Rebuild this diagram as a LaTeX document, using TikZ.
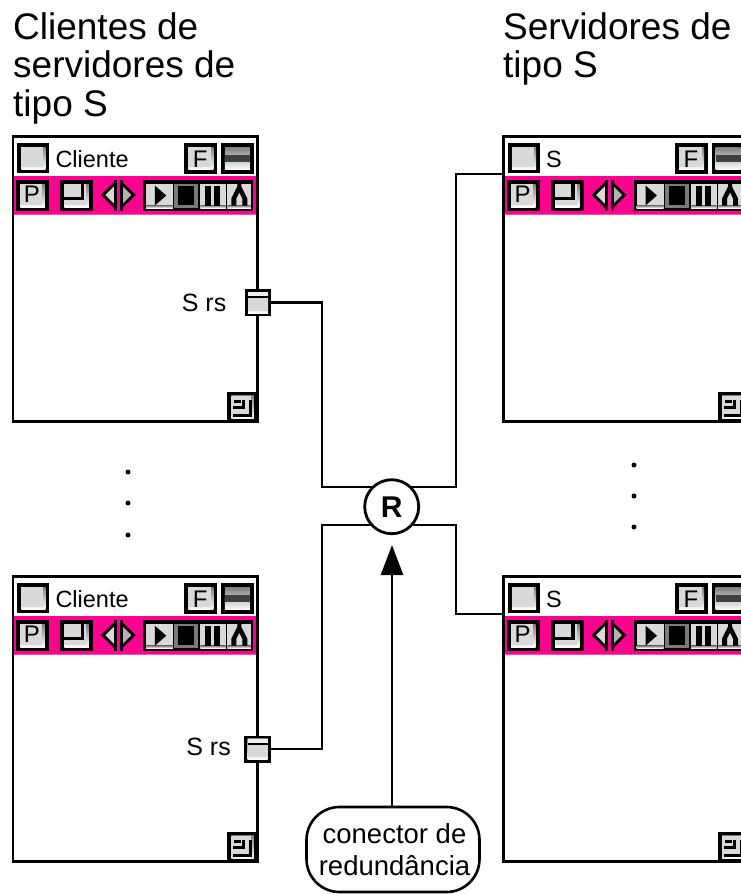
\documentclass[tikz,border=0pt]{standalone}
\usepackage{fontspec}
\setmainfont{Liberation Sans}
\usetikzlibrary{arrows.meta}
\definecolor{wpink}{HTML}{FF0090}
\definecolor{face}{HTML}{D9D9D9}
\definecolor{shade}{HTML}{999999}
\tikzset{
  x=1pt,y=-1pt,
  wire/.style={draw=black,line width=2.5pt,line join=miter},
  frame/.style={draw=black,line width=2.6pt,fill=white,rectangle,inner sep=0pt,outer sep=0pt,anchor=north west,minimum width=244.5pt,minimum height=285pt},
  title/.style={align=left,anchor=north west,inner sep=0pt,font=\fontsize{37}{38.5}\selectfont},
  wtext/.style={anchor=base west,inner sep=0pt,font=\fontsize{23.5}{24}\selectfont},
  ptext/.style={anchor=base east,inner sep=0pt,font=\fontsize{25}{25}\selectfont},
  btext/.style={anchor=center,inner sep=0pt,font=\fontsize{24}{24}\selectfont},
  dotn/.style={circle,fill=black,inner sep=0pt,minimum size=5pt},
}
% button: x1 y1 x2 y2 (black outer, 4px border)
\newcommand{\btn}[4]{%
  \fill[black] (#1,#2) rectangle (#3,#4);
  \fill[shade] (#1+4,#2+4) rectangle (#3-4,#4-4);
  \fill[face] (#1+4,#2+4) rectangle (#3-6.5,#4-6.5);
}
\newcommand{\windowbox}[2]{% name, title
  \fill[wpink] (1,39.5) rectangle (243.5,77.5);
  \node[frame] (#1) at (0,0) {};
  \fill[wpink] (1.3,39.5) rectangle (243.2,77);
  \fill[wpink!70!white] (1.3,77) rectangle (243.2,78);
  \coordinate (#1in) at (-1,37.5);
  \btn{4.5}{6.5}{36.5}{36.5}
  \node[wtext] (#1title) at (42.5,31) {#2};
  \btn{171.5}{6.5}{204.5}{37}
  \node[btext] (#1f) at (187.5,23) {F};
  % stripes button
  \fill[black] (208,6.5) rectangle (241,37);
  \fill[shade] (212,10.5) rectangle (237,33);
  \fill[black!75] (212,18.5) rectangle (237,25.5);
  % P
  \btn{3.5}{43.5}{36}{74.5}
  \node[btext] (#1p) at (19,58) {P};
  % window-shape button
  \btn{47.5}{43.5}{80}{74.5}
  \draw[black,line width=3.4pt] (51,62) -- (69.5,62) -- (69.5,46);
  % left/right arrows
  \fill[black] (88,58.5) -- (101.5,45.5) -- (101.5,71.5) -- cycle;
  \fill[face] (92.5,58.5) -- (101.5,49.5) -- (101.5,67.5) -- cycle;
  \fill[black] (101,43.5) rectangle (104.5,74);
  \fill[black] (123,58.5) -- (109.5,45.5) -- (109.5,71.5) -- cycle;
  \fill[shade!60!face] (118.5,58.5) -- (109.5,49.5) -- (109.5,67.5) -- cycle;
  \fill[black] (107,43.5) rectangle (110.5,74);
  % play group
  \fill[black] (130.5,43.5) rectangle (240,74.5);
  \fill[face] (133,47) rectangle (160,71.5);
  \fill[shade] (133,69) rectangle (160,71.5);
  \fill[black] (142,49) -- (153.5,59) -- (142,69) -- cycle;
  \fill[shade!80!black] (161.5,47) rectangle (185,71.5);
  \fill[black] (165.5,49.5) rectangle (181.5,68.5);
  \fill[face] (187.5,47) rectangle (213,71.5);
  \fill[shade] (187.5,69) rectangle (213,71.5);
  \fill[black] (192.5,49.5) rectangle (198.5,69);
  \fill[black] (201.5,49.5) rectangle (207,69);
  \fill[face] (214.5,47) rectangle (238,71.5);
  \fill[shade] (214.5,69) rectangle (238,71.5);
  \fill[black] (218.5,69) -- (218.5,62) -- (224.5,50) -- (224.5,47.5) -- (228.5,47.5) -- (228.5,50) -- (234.5,62) -- (234.5,69) -- (229.5,69) -- (229.5,62) -- (226.5,56) -- (223.5,62) -- (223.5,69) -- cycle;
  % resize handle
  \btn{214.5}{255}{245}{286}
  \draw[black,line width=3pt] (220,279) -- (237.5,279) -- (237.5,263);
  \draw[black,line width=3pt] (220,271) -- (231,271) -- (231,263);
  \fill[black] (221,263) rectangle (228,266);
}
\newcommand{\portbox}[3]{% name, cx, cy
  \fill[black] (#2-13.2,#3-13.5) rectangle (#2+13.2,#3+13.5);
  \fill[shade] (#2-10,#3-10.5) rectangle (#2+10,#3+10.5);
  \fill[face] (#2-10,#3-4.5) rectangle (#2+10,#3+8);
  \fill[face!40!white] (#2-10,#3-10.5) rectangle (#2+10,#3-6.5);
  \fill[black] (#2-10,#3-6.5) rectangle (#2+10,#3-4.5);
  \coordinate (#1) at (#2+13,#3);
}
\begin{document}
\begin{tikzpicture}
\clip (0,0) rectangle (741,894);
\fill[white] (0,0) rectangle (741,894);
\useasboundingbox (0,0) rectangle (741,894);

\node[title] (t1) at (13,12) {Clientes de\\servidores de\\tipo S};
\node[title] (t2) at (503,12) {Servidores de\\tipo S};

\begin{scope}[shift={(12.8,136.5)}]\windowbox{wa}{Cliente}\end{scope}
\begin{scope}[shift={(12.8,576.7)}]\windowbox{wb}{Cliente}\end{scope}
\begin{scope}[shift={(503.5,136.5)}]\windowbox{wc}{S}\end{scope}
\begin{scope}[shift={(503.5,576.7)}]\windowbox{wd}{S}\end{scope}

\portbox{pa}{258}{302.5}
\portbox{pb}{257.5}{749}
\node[ptext] (la) at (226.5,311) {S rs};
\node[ptext] (lb) at (231,755.5) {S rs};

\node[draw=black,line width=2.8pt,circle,fill=white,minimum size=54pt,inner sep=0pt,outer sep=0pt,font=\fontsize{30}{30}\selectfont\bfseries] (r) at (391.7,506.7) {R};
\coordinate (j1) at (322,487);
\coordinate (j2) at (322,525);
\coordinate (j3) at (456,487);
\coordinate (j4) at (456,525);

\draw[wire] (pa) -- (pa -| j1) -- (j1) -- (r.north west |- j1);
\draw[wire] (pb) -- (pb -| j2) -- (j2) -- (r.south west |- j2);
\draw[wire] (wcin) -- (wcin -| j3) -- (j3) -- (r.north east |- j3);
\draw[wire] (wdin) -- (wdin -| j4) -- (j4) -- (r.south east |- j4);

\node[draw=black,line width=2.6pt,rounded corners=33pt,fill=white,minimum width=173pt,minimum height=85pt,inner sep=0pt,outer sep=0pt,align=center,font=\fontsize{27.5}{31.6}\selectfont] (c) at (393,849.5) {\kern3pt conector de\\\kern3pt redundância};
\coordinate (tip) at (392,545);
\draw[wire,-{Triangle[length=30pt,width=22pt]}] (c.north -| tip) -- (tip);

\foreach \n/\x/\y in {d1/128/472,d2/128/503,d3/128/535,d4/634/465,d5/634/496,d6/634/527}
  \node[dotn] (\n) at (\x,\y) {};
\end{tikzpicture}
\end{document}
